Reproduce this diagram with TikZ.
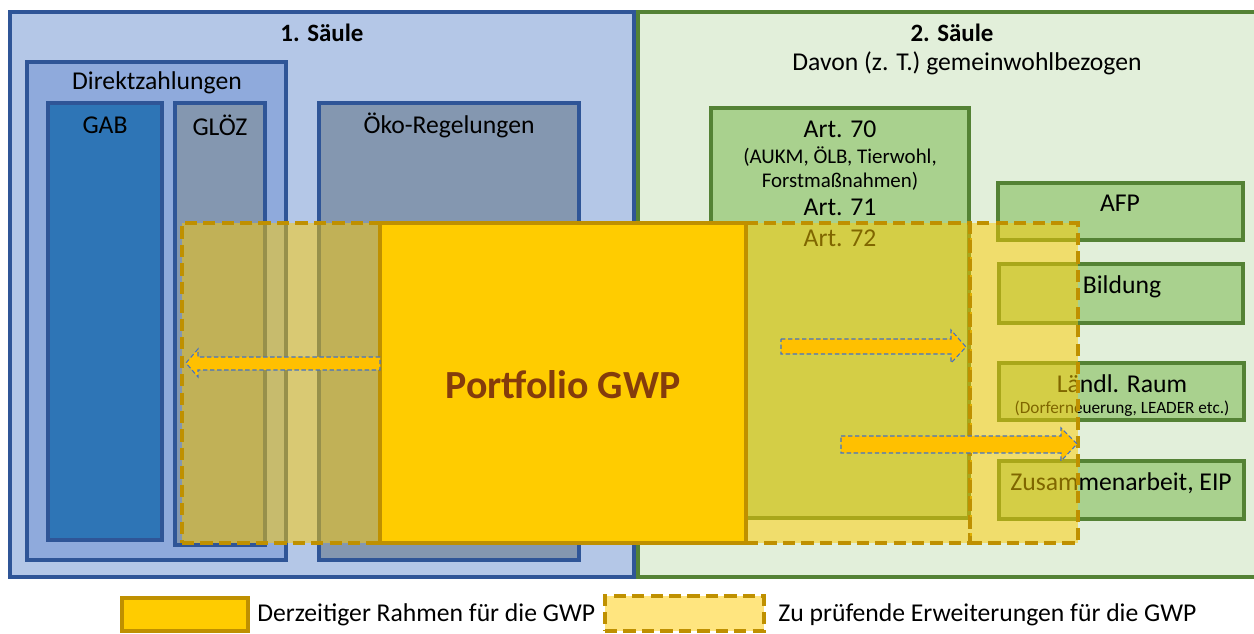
\documentclass[tikz,border=0pt]{standalone}
\usepackage{fontspec}
\setmainfont{Carlito}
\usetikzlibrary{fit}
\definecolor{bluefill}{HTML}{B4C7E7}
\definecolor{blueline}{HTML}{2F5597}
\definecolor{dzfill}{HTML}{8FAADC}
\definecolor{gabfill}{HTML}{2E75B6}
\definecolor{grayfill}{HTML}{8497B0}
\definecolor{greenbg}{HTML}{E2EFDA}
\definecolor{greenline}{HTML}{548235}
\definecolor{greenfill}{HTML}{A9D18E}
\definecolor{gold}{HTML}{FFCC00}
\definecolor{goldline}{HTML}{BF9000}
\definecolor{arrowfill}{HTML}{FFC000}
\definecolor{arrowline}{HTML}{4472C4}
\definecolor{brownt}{HTML}{843C0C}
\tikzset{
  blk/.style={inner sep=0pt, outer sep=0pt, line width=2.2pt},
  bluebox/.style={blk, draw=blueline},
  greenbox/.style={blk, draw=greenline, fill=greenfill},
  extbox/.style={blk, draw=goldline, fill=gold, fill opacity=0.5, dash pattern=on 7pt off 3.5pt},
  curbox/.style={blk, draw=goldline, fill=gold},
  txt/.style={inner sep=0pt, font=\fontsize{14.6}{17}\selectfont},
  boldtxt/.style={inner sep=0pt, font=\fontsize{14.2}{17}\selectfont\bfseries},
  small/.style={inner sep=0pt, font=\fontsize{11.9}{14}\selectfont},
  tiny/.style={inner sep=0pt, font=\fontsize{9.8}{12}\selectfont},
  garrow/.style={fill=arrowfill, draw=arrowline, line width=0.6pt, dash pattern=on 2.5pt off 1.5pt}
}
\begin{document}
\begin{tikzpicture}[x=0.02cm, y=-0.02cm]
\useasboundingbox (0,0) rectangle (1254,634);
% pillars
\node[bluebox, fill=bluefill, fit={(10,12)(634,577)}] (s1) {};
\node[blk, draw=greenline, fill=greenbg, fit={(638,12)(1262,577)}] (s2) {};
\node[boldtxt] (s1t) at (322,33) {1. Säule};
\node[boldtxt] (s2t) at (952,33) {2. Säule};
\node[txt] (s2s) at (967,63) {Davon (z. T.) gemeinwohlbezogen};
% first pillar boxes
\node[bluebox, fill=dzfill, fit={(27,62)(286,560)}] (dz) {};
\node[txt] (dzt) at (157,83) {Direktzahlungen};
\node[bluebox, fill=gabfill, fit={(48,103)(162,540)}] (gab) {};
\node[txt] (gabt) at (105,125) {GAB};
\node[bluebox, fill=grayfill, fit={(175,103)(265,545)}] (gloez) {};
\node[txt] (gloezt) at (220,125) {GLÖZ};
\node[bluebox, fill=grayfill, fit={(319,103)(579,560)}] (oeko) {};
\node[txt] (oekot) at (449,125) {Öko-Regelungen};
% second pillar boxes
\node[greenbox, fit={(711,108)(969,518)}] (art) {};
\node[txt] (a70) at (840,129) {Art. 70};
\node[small] (a70a) at (840,157) {(AUKM, ÖLB, Tierwohl,};
\node[small] (a70b) at (840,181) {Forstmaßnahmen)};
\node[txt] (a71) at (840,207) {Art. 71};
\node[txt] (a72) at (840,238) {Art. 72};
\node[greenbox, fit={(998,183)(1243,240)}] (afp) {};
\node[txt] (afpt) at (1120,203) {AFP};
\node[greenbox, fit={(999,264)(1243,323)}] (bild) {};
\node[txt] (bildt) at (1122,287) {Bildung};
\node[greenbox, fit={(999,363)(1244,420)}] (laendl) {};
\node[txt] (laendlt) at (1122,384) {Ländl. Raum};
\node[tiny] (laendls) at (1122,409) {(Dorferneuerung, LEADER etc.)};
\node[greenbox, fit={(999,461)(1244,519)}] (zus) {};
\node[txt] (zust) at (1121,483) {Zusammenarbeit, EIP};
% extensions
\node[extbox, fit={(182,223)(380,543)}] (extl) {};
\node[extbox, fit={(746,223)(970,543)}] (extr) {};
\node[extbox, fit={(970,223)(1078,543)}] (extrr) {};
% current portfolio
\node[curbox, fit={(380,223)(746,543)}] (port) {};
\node[inner sep=0pt, text=brownt, font=\fontsize{22.7}{27}\selectfont\bfseries] (portt) at (563,385) {Portfolio GWP};
% arrows
\draw[garrow] (380,357) -- (198,357) -- (198,349) -- (186,363) -- (198,377) -- (198,370) -- (380,370) -- cycle;
\draw[garrow] (781,339) -- (951,339) -- (951,330) -- (966,347) -- (951,363) -- (951,354) -- (781,354) -- cycle;
\draw[garrow] (841,436) -- (1061,436) -- (1061,428) -- (1077,444) -- (1061,461) -- (1061,453) -- (841,453) -- cycle;
% legend
\node[curbox, fit={(122,598)(248,631)}] (lg1) {};
\node[txt, anchor=west] (lg1t) at (257,615) {Derzeitiger Rahmen für die GWP};
\node[extbox, fit={(605,596)(764,631)}] (lg2) {};
\node[txt, anchor=west] (lg2t) at (778,615) {Zu prüfende Erweiterungen für die GWP};
\end{tikzpicture}
\end{document}
